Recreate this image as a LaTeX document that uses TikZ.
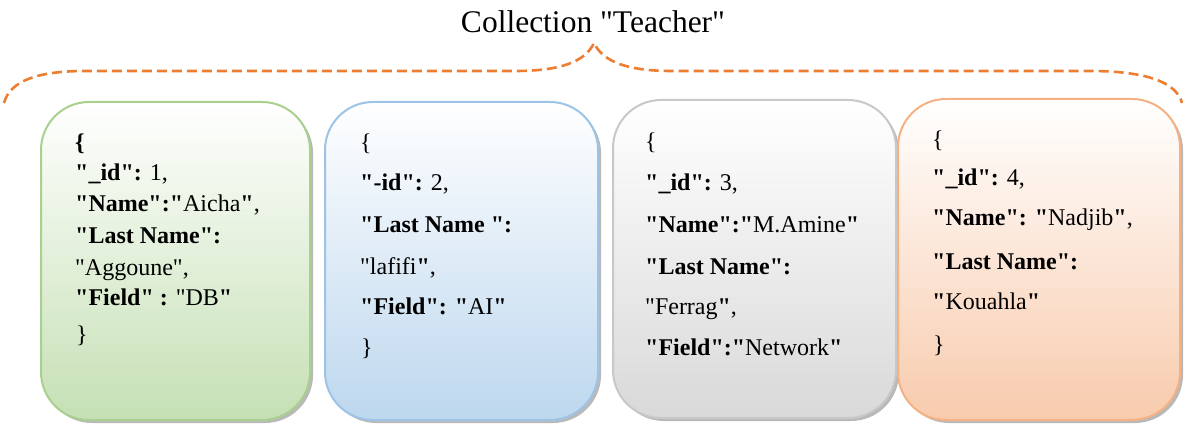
\documentclass[tikz,border=0pt]{standalone}
\usepackage{fontspec}
\setmainfont{Liberation Serif}[Ligatures=TeXOff]
\usetikzlibrary{shadows}
\definecolor{braceorange}{HTML}{ED7D31}
\definecolor{greenline}{HTML}{A9D08E}
\definecolor{greenfill}{HTML}{C5E0B4}
\definecolor{blueline}{HTML}{9DC3E6}
\definecolor{bluefill}{HTML}{BDD7EE}
\definecolor{grayline}{HTML}{C8C8C8}
\definecolor{grayfill}{HTML}{D9D9D9}
\definecolor{orangeline}{HTML}{F4B183}
\definecolor{orangefill}{HTML}{F8CBAD}
\begin{document}
\begin{tikzpicture}[x=1pt,y=-1pt,
  card/.style={draw=#1line, line width=2pt, rounded corners=48pt, inner sep=0pt,
    top color=white, middle color=#1fill!55, bottom color=#1fill,
    drop shadow={shadow xshift=3pt, shadow yshift=-3pt, fill=black!50, opacity=.55}},
  entry/.style={anchor=base west, inner sep=0pt, font=\fontsize{24}{28}\selectfont},
  brace/.style={draw=braceorange, line width=2.6pt, dash pattern=on 10pt off 5pt},
  heading/.style={anchor=base, inner sep=0pt, font=\fontsize{31.5}{36}\selectfont}]
\useasboundingbox (0,0) rectangle (1185,425);

% title and the dashed brace that gathers the documents
\node[heading] (title) at (593,33) {Collection "Teacher"};
\coordinate (bl) at (4,103);
\coordinate (tip) at (594,43);
\coordinate (br) at (1182,103);
\draw[brace] (bl) .. controls (10,80) and (40,71) .. (85,71) -- (515,71)
  .. controls (560,71) and (585,62) .. (tip)
  .. controls (603,62) and (628,71) .. (672,71) -- (1090,71)
  .. controls (1140,71) and (1176,80) .. (br);

% document cards
\node[card=green, minimum width=269pt, minimum height=318pt] (doc1) at (175.5,261) {};
\node[card=blue, minimum width=273pt, minimum height=318pt] (doc2) at (461.5,261) {};
\node[card=gray, minimum width=283pt, minimum height=318pt] (doc3) at (754.5,259) {};
\node[card=orange, minimum width=282pt, minimum height=321pt] (doc4) at (1039,259.5) {};

% document 1
\node[entry] (d1a) at (75,150) {\textbf{\{}};
\node[entry] (d1b) at (75,180) {\textbf{"\_id":} 1,};
\node[entry] (d1c) at (75,211) {\textbf{"Name":"}Aicha\textbf{"},};
\node[entry] (d1d) at (75,243) {\textbf{"Last Name":}};
\node[entry] (d1e) at (75,275) {"Aggoune",};
\node[entry] (d1f) at (75,305) {\textbf{"Field" :} "DB\textbf{"}};
\node[entry] (d1g) at (76,342) {\}};

% document 2
\node[entry] (d2a) at (360,150) {\{};
\node[entry] (d2b) at (360,190) {\textbf{"-id":} 2,};
\node[entry] (d2c) at (360,232) {\textbf{"Last Name ":}};
\node[entry] (d2d) at (360,274) {"lafifi\textbf{"},};
\node[entry] (d2e) at (360,314) {\textbf{"Field": "}AI\textbf{"}};
\node[entry] (d2f) at (361,355) {\}};

% document 3
\node[entry] (d3a) at (645,149) {\{};
\node[entry] (d3b) at (645,190) {\textbf{"\_id":} 3,};
\node[entry] (d3c) at (645,232) {\textbf{"Name":"}M.Amine\textbf{"}};
\node[entry] (d3d) at (645,274) {\textbf{"Last Name":}};
\node[entry] (d3e) at (645,314) {"Ferrag\textbf{"},};
\node[entry] (d3f) at (645,355) {\textbf{"Field":"}Network\textbf{"}};

% document 4
\node[entry] (d4a) at (932,147) {\{};
\node[entry] (d4b) at (932,185) {\textbf{"\_id":} 4,};
\node[entry] (d4c) at (932,225) {\textbf{"Name": "}Nadjib\textbf{"},};
\node[entry] (d4d) at (932,269) {\textbf{"Last Name":}};
\node[entry] (d4e) at (932,309) {\textbf{"}Kouahla\textbf{"}};
\node[entry] (d4f) at (933,352) {\}};
\end{tikzpicture}
\end{document}
